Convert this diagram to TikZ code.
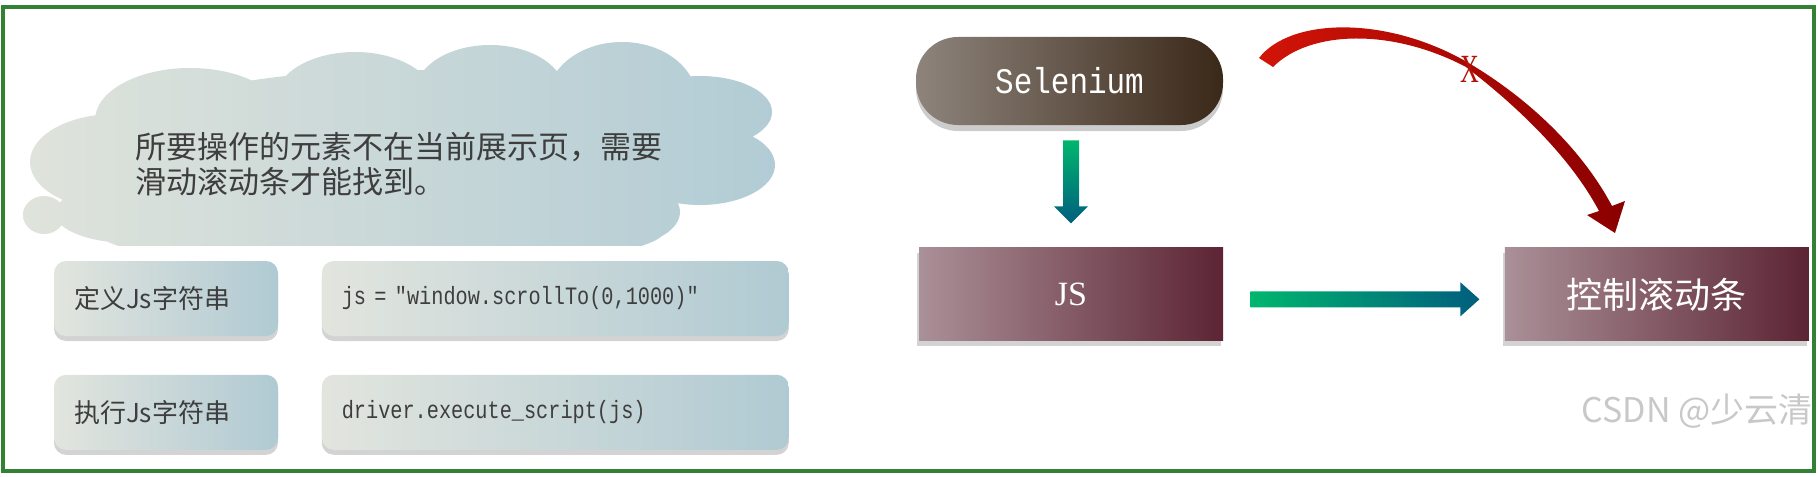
\documentclass[tikz,border=0pt]{standalone}
\usepackage{fontspec}
\setmainfont{Liberation Serif}
\setmonofont{Liberation Mono}
\newfontfamily\cjk{Noto Sans CJK SC}
\newfontfamily\codefont[FakeStretch=0.81]{Liberation Mono}
\newfontfamily\selfont[FakeStretch=0.86]{Liberation Mono}
\newfontfamily\narrowserif[FakeStretch=0.65]{Liberation Serif}
\usetikzlibrary{positioning,calc,shadows}

\definecolor{framegreen}{RGB}{52,128,52}
\definecolor{cloudL}{RGB}{223,227,219}
\definecolor{cloudR}{RGB}{178,204,213}
\definecolor{boxL}{RGB}{226,229,222}
\definecolor{boxR}{RGB}{176,202,211}
\definecolor{textgray}{RGB}{62,62,62}
\definecolor{selL}{RGB}{142,132,124}
\definecolor{selR}{RGB}{58,40,24}
\definecolor{jsL}{RGB}{170,144,152}
\definecolor{jsR}{RGB}{92,36,52}
\definecolor{arrgreen}{RGB}{0,182,110}
\definecolor{arrteal}{RGB}{0,94,126}
\definecolor{redL}{RGB}{210,20,8}
\definecolor{redR}{RGB}{138,0,0}
\definecolor{wmgray}{RGB}{200,200,200}

\tikzset{
  softbox/.style={rounded corners=6pt, left color=boxL, right color=boxR,
    minimum height=37.5pt, inner xsep=10pt, align=left, text=textgray,
    drop shadow={shadow xshift=0pt, shadow yshift=-2.5pt, opacity=0.35}},
  labelbox/.style={softbox, text width=92pt, font=\cjk\fontsize{13}{15}\selectfont},
  codebox/.style={softbox, text width=213.5pt, font=\codefont\fontsize{12.5}{14}\selectfont},
  selbox/.style={rounded corners=21pt, left color=selL, right color=selR,
    minimum width=153.5pt, minimum height=44pt, text=white,
    font=\selfont\fontsize{18}{20}\selectfont,
    drop shadow={shadow xshift=0pt, shadow yshift=-3pt, opacity=0.4}},
  darkbox/.style={left color=jsL, right color=jsR, minimum width=152pt,
    minimum height=46.5pt, text=white, font=\fontsize{17}{20}\selectfont,
    drop shadow={shadow xshift=-1pt, shadow yshift=-2.5pt, opacity=0.35}},
}

\begin{document}
\begin{tikzpicture}[x=0.5pt,y=-0.5pt]
	\useasboundingbox (0,0) rectangle (1818,476);

	\begin{scope}
		\clip (0,0) rectangle (820,245);
		\shade[left color=cloudL, right color=cloudR]
			(400,150) ellipse (300 and 80)
			(190,120) ellipse (95 and 52)
			(355,100) ellipse (80 and 48)
			(490,93) ellipse (75 and 48)
			(622,100) ellipse (75 and 58)
			(700,112) ellipse (72 and 36)
			(700,165) ellipse (75 and 40)
			(610,212) ellipse (70 and 36)
			(115,162) ellipse (85 and 48)
			(130,213) ellipse (75 and 30)
			(44,215) ellipse (21 and 19)
			(380,230) ellipse (285 and 40);
	\end{scope}
	\node[anchor=west, align=left, text=textgray, font=\cjk\fontsize{15.5}{17.5}\selectfont] (note) at (128,164.5)
		{所要操作的元素不在当前展示页，需要\\滑动滚动条才能找到。};

	\node[labelbox] (def) at (166,298.5) {定义Js字符串};
	\node[codebox, right=21.5pt of def] (defcode) {js = "window.scrollTo(0,1000)"};
	\node[labelbox, below=19pt of def] (run) {执行Js字符串};
	\node[codebox, right=21.5pt of run] (runcode) {driver.execute\_script(js)};

	\node[selbox] (sel) at (1069.5,81) {Selenium};
	\node[darkbox, below=61pt of sel, xshift=0.75pt] (js) {JS};
	\node[darkbox, right=140.5pt of js, font=\cjk\fontsize{18}{21}\selectfont] (ctrl) {控制滚动条};

	\coordinate (dtop) at ($(sel.south -| js.north)+(0,15)$);
	\coordinate (dtip) at ($(js.north)+(0,-24)$);
	\shade[top color=arrgreen, bottom color=arrteal]
		($(dtop)+(-8,0)$) -- ($(dtip)+(-8,-17)$) -- ($(dtip)+(-17,-17)$) -- (dtip)
		-- ($(dtip)+(17,-17)$) -- ($(dtip)+(8,-17)$) -- ($(dtop)+(8,0)$) -- cycle;

	\coordinate (hs) at ($(js.east)+(27,5)$);
	\coordinate (ht) at ($(ctrl.west)+(-25,5)$);
	\shade[left color=arrgreen, right color=arrteal]
		($(hs)+(0,-8)$) -- ($(ht)+(-19,-8)$) -- ($(ht)+(-19,-17)$) -- (ht)
		-- ($(ht)+(-19,17)$) -- ($(ht)+(-19,8)$) -- ($(hs)+(0,8)$) -- cycle;

	\shade[left color=redL, right color=redR]
		(1259,58) .. controls (1290,18) and (1385,15) .. (1467,62)
		.. controls (1535,102) and (1585,155) .. (1612,206)
		-- (1625,201) -- (1615,233) -- (1587,215) -- (1599,211)
		.. controls (1572,160) and (1522,110) .. (1466,67)
		.. controls (1392,28) and (1310,30) .. (1273,67) -- cycle;
	\node[text=redL!85!black, font=\narrowserif\fontsize{20}{20}\selectfont, inner sep=0pt] (xmark) at (1470,69) {X};

	\node[anchor=east, text=wmgray, font=\cjk\fontsize{17}{17}\selectfont, inner sep=0pt] (wm) at (1813,411) {CSDN @少云清};

	\draw[framegreen, line width=2pt] (3,7) rectangle (1814,471);
\end{tikzpicture}
\end{document}
